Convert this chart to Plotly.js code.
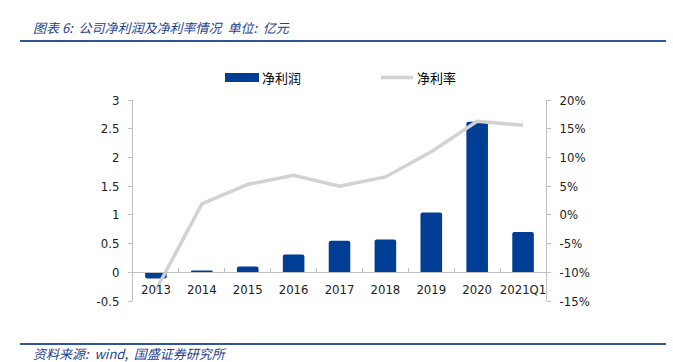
<!DOCTYPE html>
<html>
<head>
<meta charset="utf-8">
<script src="https://cdn.plot.ly/plotly-3.0.1.min.js"></script>
<style>html,body{margin:0;padding:0;background:#fff;}#chart{width:673px;height:362px;}</style>
</head>
<body>
<div id="chart"></div>
<script>
var categories = ['2013','2014','2015','2016','2017','2018','2019','2020','2021Q1'];
var netProfit = [-0.11, 0.03, 0.10, 0.31, 0.55, 0.57, 1.04, 2.62, 0.70];
var netMargin = [-0.131, 0.019, 0.053, 0.069, 0.050, 0.066, 0.110, 0.163, 0.156];
var leftTickVals = [-0.5, 0, 0.5, 1, 1.5, 2, 2.5, 3];
var leftTickText = ['-0.5', '0', '0.5', '1', '1.5', '2', '2.5', '3'];
var rightTickVals = [-0.15, -0.10, -0.05, 0, 0.05, 0.10, 0.15, 0.20];
var rightTickText = ['-15%', '-10%', '-5%', '0%', '5%', '10%', '15%', '20%'];
var barName = '净利润';
var lineName = '净利率';
var titleText = '图表 6:  公司净利润及净利率情况  单位:  亿元';
var sourceText = '资料来源:  wind,  国盛证券研究所';

var W = 673, H = 362, L = 133, R = 127, T = 100, B = 61;
var pw = W - L - R, ph = H - T - B;
function px(x) { return (x - L) / pw; }
function py(y) { return (H - B - y) / ph; }

var axisColor = '#BFBFBF';
var blue = '#003D95';
var gray = '#D2D2D2';
var tickFont = {family: 'DejaVu Sans Condensed, DejaVu Sans, sans-serif', size: 13, color: '#222'};
var cjk = 'Noto Sans CJK SC, sans-serif';

var traces = [
  {type: 'bar', x: categories, y: netProfit, name: barName, marker: {color: blue, cornerradius: 2}, width: 0.47, xaxis: 'x', yaxis: 'y', showlegend: false, hoverinfo: 'none'},
  {type: 'scatter', mode: 'lines', x: categories, y: netMargin, name: lineName, line: {color: gray, width: 3.5}, xaxis: 'x', yaxis: 'y2', showlegend: false, hoverinfo: 'none'}
];

var layout = {
  width: W, height: H,
  margin: {l: L, r: R, t: T, b: B},
  paper_bgcolor: '#fff', plot_bgcolor: '#fff',
  showlegend: false,
  xaxis: {
    type: 'category', anchor: 'free', position: 0.5 / 3.5, tickangle: 0,
    showline: true, linecolor: axisColor, linewidth: 1,
    ticks: 'inside', tickson: 'boundaries', ticklen: 4, tickcolor: axisColor,
    showgrid: false, zeroline: false, tickfont: tickFont, ticklabelstandoff: 5
  },
  yaxis: {
    range: [-0.5, 3], tickvals: leftTickVals, ticktext: leftTickText,
    showline: true, linecolor: axisColor, ticks: 'outside', ticklen: 4, tickcolor: axisColor,
    showgrid: false, zeroline: false, tickfont: tickFont, ticklabelstandoff: 6
  },
  yaxis2: {
    overlaying: 'y', side: 'right', range: [-0.15, 0.20], tickvals: rightTickVals, ticktext: rightTickText,
    showline: true, linecolor: axisColor, ticks: 'outside', ticklen: 4, tickcolor: axisColor,
    showgrid: false, zeroline: false, tickfont: tickFont, ticklabelstandoff: 6
  },
  shapes: [
    {type: 'line', xref: 'paper', yref: 'paper', x0: px(20), x1: px(666), y0: py(41), y1: py(41), line: {color: '#2F5597', width: 2}},
    {type: 'line', xref: 'paper', yref: 'paper', x0: px(20), x1: px(666), y0: py(344), y1: py(344), line: {color: '#2F5597', width: 2}},
    {type: 'rect', xref: 'paper', yref: 'paper', x0: px(225), x1: px(259), y0: py(82), y1: py(73), fillcolor: blue, line: {width: 0}},
    {type: 'line', xref: 'paper', yref: 'paper', x0: px(381), x1: px(413), y0: py(77.5), y1: py(77.5), line: {color: gray, width: 3.5}}
  ],
  annotations: [
    {xref: 'paper', yref: 'paper', x: px(31), y: py(27), xanchor: 'left', yanchor: 'middle', showarrow: false, text: '<i>' + titleText + '</i>', font: {family: cjk, size: 13, color: '#1F3F8F'}},
    {xref: 'paper', yref: 'paper', x: px(31), y: py(353), xanchor: 'left', yanchor: 'middle', showarrow: false, text: '<i>' + sourceText + '</i>', font: {family: cjk, size: 13, color: '#1F3F8F'}},
    {xref: 'paper', yref: 'paper', x: px(260), y: py(77), xanchor: 'left', yanchor: 'middle', showarrow: false, text: barName, font: {family: cjk, size: 13, color: '#000'}},
    {xref: 'paper', yref: 'paper', x: px(415), y: py(77), xanchor: 'left', yanchor: 'middle', showarrow: false, text: lineName, font: {family: cjk, size: 13, color: '#000'}}
  ]
};

Plotly.newPlot('chart', traces, layout, {staticPlot: true, displayModeBar: false});
</script>
</body>
</html>
